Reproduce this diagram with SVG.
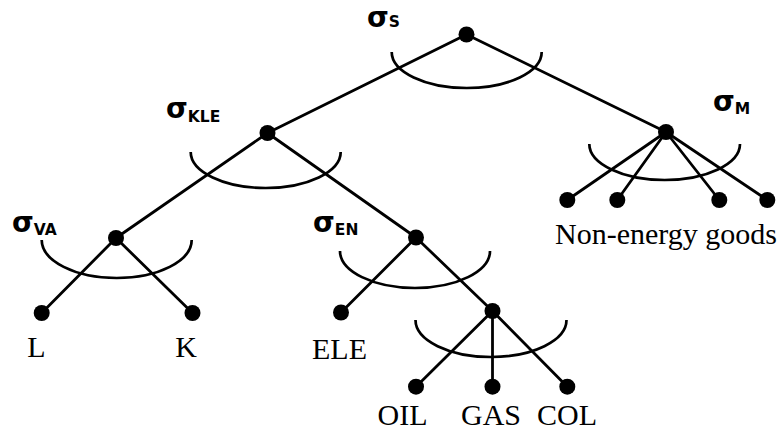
<svg xmlns="http://www.w3.org/2000/svg" width="783" height="433" viewBox="0 0 783 433">
  <style>
    .edge { stroke: #000; stroke-width: 2.8; fill: none; stroke-linecap: round; }
    .arc { stroke: #000; stroke-width: 2.7; fill: none; }
    .dot { fill: #000; }
    .lbl { font-family: "Liberation Serif", "Times New Roman", serif; font-size: 30px; fill: #000; text-anchor: middle; }
    .sig { font-family: "DejaVu Sans", "Liberation Sans", sans-serif; font-weight: bold; font-size: 28px; fill: #000; }
    .sub { font-size: 15.5px; }
  </style>
  <rect width="783" height="433" fill="#fff"/>

  <!-- connectors -->
  <g id="connectors">
    <line class="edge" x1="466.5" y1="34.5" x2="267.5" y2="133"/>
    <line class="edge" x1="466.5" y1="34.5" x2="666" y2="132"/>
    <line class="edge" x1="267.5" y1="133" x2="116" y2="238"/>
    <line class="edge" x1="267.5" y1="133" x2="416" y2="237.5"/>
    <line class="edge" x1="116" y1="238" x2="41.7" y2="313"/>
    <line class="edge" x1="116" y1="238" x2="192.5" y2="313"/>
    <line class="edge" x1="416" y1="237.5" x2="341" y2="312.5"/>
    <line class="edge" x1="416" y1="237.5" x2="492.5" y2="311"/>
    <line class="edge" x1="492.5" y1="311" x2="416" y2="386.7"/>
    <line class="edge" x1="492.5" y1="311" x2="492.5" y2="386.7"/>
    <line class="edge" x1="492.5" y1="311" x2="567.3" y2="386.7"/>
    <line class="edge" x1="666" y1="132" x2="567.3" y2="200"/>
    <line class="edge" x1="666" y1="132" x2="617.3" y2="200"/>
    <line class="edge" x1="666" y1="132" x2="719.3" y2="200"/>
    <line class="edge" x1="666" y1="132" x2="767.3" y2="200"/>
  </g>

  <!-- substitution-elasticity arcs -->
  <g id="arcs">
    <path class="arc" d="M391.7,52 A75,36 0 0 0 541.7,52"/>
    <path class="arc" d="M190.7,152 A75,36 0 0 0 340.7,152"/>
    <path class="arc" d="M41.7,240 A75,38 0 0 0 191.7,240"/>
    <path class="arc" d="M340,251 A75,37 0 0 0 490,251"/>
    <path class="arc" d="M415.5,320 A75.5,37 0 0 0 566.5,320"/>
    <path class="arc" d="M589.3,144 A75.3,36 0 0 0 740,144"/>
  </g>

  <!-- nest nodes -->
  <g id="node-S">
    <circle class="dot" cx="466.5" cy="34.5" r="8"/>
    <text class="sig" x="367" y="27">σ<tspan class="sub">S</tspan></text>
  </g>
  <g id="node-KLE">
    <circle class="dot" cx="267.5" cy="133" r="8"/>
    <text class="sig" x="166" y="118">σ<tspan class="sub" dy="3.5">KLE</tspan></text>
  </g>
  <g id="node-M">
    <circle class="dot" cx="666" cy="132" r="8"/>
    <text class="sig" x="713" y="111">σ<tspan class="sub" dy="2.5">M</tspan></text>
  </g>
  <g id="node-VA">
    <circle class="dot" cx="116" cy="238" r="8"/>
    <text class="sig" x="12" y="231.5">σ<tspan class="sub" dy="3.5">VA</tspan></text>
  </g>
  <g id="node-EN">
    <circle class="dot" cx="416" cy="237.5" r="8"/>
    <text class="sig" x="313" y="231.5">σ<tspan class="sub" dy="3.5">EN</tspan></text>
  </g>
  <g id="node-FOS">
    <circle class="dot" cx="492.5" cy="311" r="8"/>
  </g>

  <!-- leaf inputs -->
  <g id="leaf-L">
    <circle class="dot" cx="41.7" cy="313" r="8"/>
    <text class="lbl" x="36.5" y="356.7">L</text>
  </g>
  <g id="leaf-K">
    <circle class="dot" cx="192.5" cy="313" r="8"/>
    <text class="lbl" x="186" y="356.7">K</text>
  </g>
  <g id="leaf-ELE">
    <circle class="dot" cx="341" cy="312.5" r="8"/>
    <text class="lbl" x="339.5" y="359.3">ELE</text>
  </g>
  <g id="leaf-OIL">
    <circle class="dot" cx="416" cy="386.7" r="8"/>
    <text class="lbl" x="402.5" y="425">OIL</text>
  </g>
  <g id="leaf-GAS">
    <circle class="dot" cx="492.5" cy="386.7" r="8"/>
    <text class="lbl" x="491" y="425">GAS</text>
  </g>
  <g id="leaf-COL">
    <circle class="dot" cx="567.3" cy="386.7" r="8"/>
    <text class="lbl" x="567" y="425">COL</text>
  </g>
  <g id="leaf-goods">
    <circle class="dot" cx="567.3" cy="200" r="8"/>
    <circle class="dot" cx="617.3" cy="200" r="8"/>
    <circle class="dot" cx="719.3" cy="200" r="8"/>
    <circle class="dot" cx="767.3" cy="200" r="8"/>
    <text class="lbl" x="666" y="244">Non-energy goods</text>
  </g>
</svg>
